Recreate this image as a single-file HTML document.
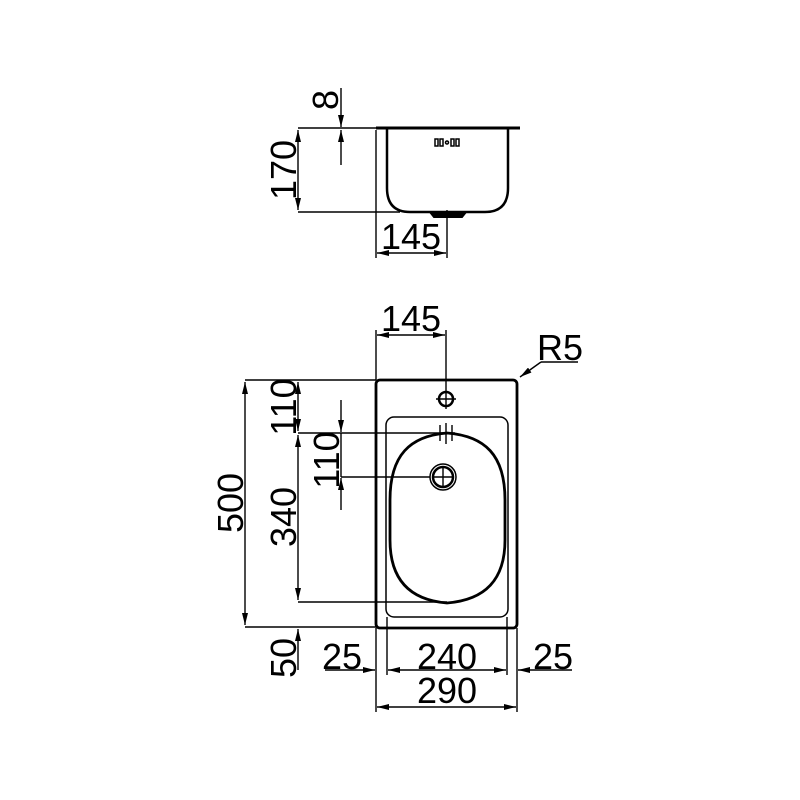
<!DOCTYPE html>
<html><head><style>body{margin:0;background:#fff}svg{display:block}text{font-family:"Liberation Sans",sans-serif;font-size:36px;fill:#000}</style></head>
<body>
<svg width="800" height="800" viewBox="0 0 800 800" xmlns="http://www.w3.org/2000/svg">
<defs>
<marker id="a" viewBox="0 0 12 6" refX="12" refY="3" markerWidth="12" markerHeight="6" orient="auto-start-reverse" markerUnits="userSpaceOnUse"><path d="M0,0 L12,3 L0,6 Z" fill="#000"/></marker>
</defs>
<g fill="none" stroke="#000">
<line x1="376" y1="128" x2="520" y2="128" stroke-width="3"/>
<path d="M387,129 V188 Q387,212 410,212 H485 Q508,212 508,188 V129" stroke-width="2.5"/>
<path d="M430,212 L434,217 H462 L466,212" stroke-width="2" fill="#000"/>
<g stroke-width="1.5"><rect x="435" y="139" width="3" height="7"/><rect x="440" y="139" width="3" height="7"/><circle cx="447" cy="142.5" r="1.5"/><rect x="451" y="139" width="3" height="7"/><rect x="456" y="139" width="3" height="7"/></g>
<g stroke-width="1.4">
<line x1="298" y1="128" x2="376" y2="128"/><line x1="298" y1="212" x2="400" y2="212"/>
<line x1="298" y1="130" x2="298" y2="210" marker-start="url(#a)" marker-end="url(#a)"/>
<line x1="341" y1="88" x2="341" y2="127" marker-end="url(#a)"/>
<line x1="341" y1="165" x2="341" y2="130" marker-end="url(#a)"/>
<line x1="376" y1="130" x2="376" y2="258"/><line x1="447" y1="210" x2="447" y2="258"/>
<line x1="377" y1="253" x2="446" y2="253" marker-start="url(#a)" marker-end="url(#a)"/>
</g>
<rect x="376" y="380" width="141" height="248" rx="4" stroke-width="2.8"/>
<rect x="386" y="417" width="122" height="200" rx="8" stroke-width="1.5"/>
<path d="M390,500 C390,455 410,436 447,433 C485,436 505,455 505,500 L505,540 C505,580 485,600 447,603 C410,600 390,580 390,540 Z" stroke-width="2.8"/>
<circle cx="443" cy="477" r="13" stroke-width="1.5"/><circle cx="443" cy="477" r="10" stroke-width="2.5"/>
<circle cx="446" cy="399" r="7" stroke-width="2.5"/>
<g stroke-width="1.4">
<line x1="436" y1="399" x2="456" y2="399"/><line x1="446" y1="330" x2="446" y2="409"/>
<line x1="433" y1="477" x2="453" y2="477"/><line x1="443" y1="467" x2="443" y2="487"/>
<line x1="440" y1="425" x2="440" y2="441"/><line x1="446" y1="423" x2="446" y2="444"/><line x1="452" y1="425" x2="452" y2="441"/>
<line x1="376" y1="330" x2="376" y2="380"/>
<line x1="377" y1="335" x2="445" y2="335" marker-start="url(#a)" marker-end="url(#a)"/>
<line x1="520" y1="377" x2="541" y2="362" marker-start="url(#a)"/><line x1="541" y1="362" x2="578" y2="362"/>
<line x1="245" y1="380" x2="376" y2="380"/><line x1="245" y1="627" x2="376" y2="627"/>
<line x1="245" y1="382" x2="245" y2="625" marker-start="url(#a)" marker-end="url(#a)"/>
<line x1="298" y1="382" x2="298" y2="431" marker-start="url(#a)" marker-end="url(#a)"/>
<line x1="298" y1="435" x2="298" y2="600" marker-start="url(#a)" marker-end="url(#a)"/>
<line x1="298" y1="670" x2="298" y2="629" marker-end="url(#a)"/>
<line x1="298" y1="433" x2="455" y2="433"/><line x1="298" y1="602" x2="447" y2="602"/>
<line x1="341" y1="400" x2="341" y2="432" marker-end="url(#a)"/>
<line x1="341" y1="510" x2="341" y2="478" marker-end="url(#a)"/>
<line x1="341" y1="433" x2="341" y2="477"/>
<line x1="341" y1="477" x2="430" y2="477"/>
<line x1="387" y1="617" x2="387" y2="675"/><line x1="507" y1="617" x2="507" y2="675"/>
<line x1="376" y1="628" x2="376" y2="712"/><line x1="517" y1="628" x2="517" y2="712"/>
<line x1="325" y1="670" x2="375" y2="670" marker-end="url(#a)"/>
<line x1="388" y1="670" x2="506" y2="670" marker-start="url(#a)" marker-end="url(#a)"/>
<line x1="572" y1="670" x2="518" y2="670" marker-end="url(#a)"/>
<line x1="377" y1="707" x2="516" y2="707" marker-start="url(#a)" marker-end="url(#a)"/>
</g>
</g>
<g text-anchor="middle">
<text transform="translate(338,100) rotate(-90)">8</text>
<text transform="translate(296,170) rotate(-90)">170</text>
<text x="411" y="249">145</text>
<text x="411" y="331">145</text>
<text x="560" y="360">R5</text>
<text transform="translate(243,503) rotate(-90)">500</text>
<text transform="translate(296,407) rotate(-90)">110</text>
<text transform="translate(339,460) rotate(-90)">110</text>
<text transform="translate(296,517) rotate(-90)">340</text>
<text transform="translate(296,658) rotate(-90)">50</text>
<text x="342" y="669">25</text>
<text x="447" y="669">240</text>
<text x="553" y="669">25</text>
<text x="447" y="703">290</text>
</g>
</svg>
</body></html>
